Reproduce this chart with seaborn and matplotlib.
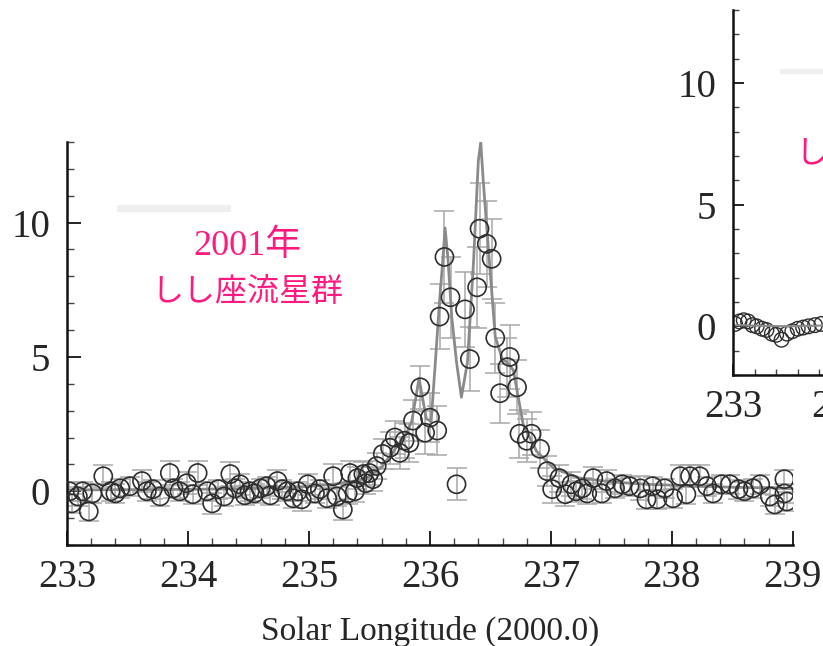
import matplotlib
matplotlib.use("Agg")
import matplotlib.pyplot as plt
import pandas as pd
import seaborn as sns
from matplotlib.patches import Rectangle
from matplotlib.ticker import MultipleLocator

# observed rates (main panel, 2001)
sol_lon = [
    233.02, 233.04, 233.09, 233.13, 233.18, 233.21, 233.30, 233.36, 233.40, 233.44,
    233.52, 233.62, 233.66, 233.71, 233.77, 233.85, 233.88, 233.93, 233.99, 234.04,
    234.08, 234.16, 234.20, 234.25, 234.30, 234.35, 234.39, 234.43, 234.47, 234.51,
    234.55, 234.60, 234.65, 234.68, 234.74, 234.78, 234.82, 234.87, 234.91, 234.94,
    234.99, 235.05, 235.09, 235.15, 235.20, 235.23, 235.28, 235.32, 235.34, 235.38,
    235.40, 235.45, 235.47, 235.50, 235.53, 235.56, 235.61, 235.67, 235.71, 235.75,
    235.79, 235.83, 235.86, 235.92, 235.96, 236.00, 236.06, 236.08, 236.12, 236.17,
    236.22, 236.29, 236.33, 236.39, 236.41, 236.47, 236.51, 236.54, 236.58, 236.64,
    236.66, 236.72, 236.74, 236.80, 236.84, 236.91, 236.97, 237.01, 237.07, 237.12,
    237.17, 237.21, 237.26, 237.30, 237.35, 237.42, 237.46, 237.53, 237.59, 237.65,
    237.74, 237.79, 237.84, 237.88, 237.94, 238.01, 238.07, 238.12, 238.15, 238.23,
    238.29, 238.34, 238.41, 238.48, 238.55, 238.60, 238.67, 238.73, 238.81, 238.85,
    238.93, 238.93, 238.95,
]
rate = [
    0.00, -0.45, -0.19, 0.00, -0.75, -0.08, 0.56, 0.00, -0.08, 0.11,
    0.19, 0.38, 0.00, 0.08, -0.19, 0.68, 0.11, 0.00, 0.30, -0.11,
    0.68, 0.00, -0.45, 0.08, -0.19, 0.64, 0.11, 0.26, -0.15, 0.00,
    -0.08, 0.11, 0.19, -0.15, 0.38, 0.08, 0.00, -0.26, 0.00, -0.30,
    0.26, -0.08, 0.08, -0.26, 0.56, -0.19, -0.68, -0.08, 0.68, 0.00,
    0.49, 0.64, 0.30, 0.68, 0.45, 0.94, 1.39, 1.62, 2.00, 1.43,
    1.88, 1.80, 2.63, 3.87, 2.18, 2.74, 2.26, 6.50, 8.72, 7.22,
    0.26, 6.77, 4.92, 7.59, 9.77, 9.21, 8.65, 5.71, 3.65, 4.62,
    5.00, 3.87, 2.14, 1.88, 2.14, 1.58, 0.75, 0.08, 0.49, -0.11,
    0.26, 0.00, 0.11, -0.08, 0.49, -0.08, 0.38, 0.11, 0.26, 0.19,
    0.11, -0.30, 0.19, -0.30, 0.11, -0.26, 0.56, -0.11, 0.56, 0.56,
    0.19, -0.08, 0.26, 0.26, 0.08, 0.00, 0.11, 0.26, -0.19, -0.49,
    0.45, -0.08, -0.38,
]
rate_err = [
    0.35, 0.35, 0.35, 0.35, 0.35, 0.35, 0.40, 0.35, 0.35, 0.35,
    0.35, 0.40, 0.35, 0.35, 0.35, 0.45, 0.35, 0.35, 0.40, 0.35,
    0.45, 0.35, 0.40, 0.35, 0.35, 0.45, 0.35, 0.40, 0.35, 0.35,
    0.35, 0.35, 0.35, 0.35, 0.40, 0.35, 0.35, 0.35, 0.35, 0.45,
    0.40, 0.35, 0.35, 0.35, 0.45, 0.35, 0.40, 0.40, 0.45, 0.40,
    0.40, 0.45, 0.40, 0.45, 0.45, 0.50, 0.55, 0.60, 0.60, 0.60,
    0.65, 0.70, 0.75, 0.80, 0.80, 0.90, 0.90, 1.20, 1.70, 1.50,
    0.60, 1.40, 1.20, 1.50, 1.70, 1.60, 1.50, 1.30, 1.10, 1.10,
    1.20, 1.00, 0.90, 0.80, 0.80, 0.70, 0.55, 0.50, 0.50, 0.45,
    0.45, 0.40, 0.40, 0.40, 0.40, 0.35, 0.40, 0.35, 0.35, 0.35,
    0.45, 0.35, 0.35, 0.35, 0.35, 0.35, 0.40, 0.35, 0.40, 0.40,
    0.35, 0.35, 0.35, 0.35, 0.35, 0.35, 0.35, 0.35, 0.35, 0.35,
    0.35, 0.35, 0.35,
]

# model curve
fit_lon = [
    233.00, 233.50, 234.00, 234.50, 235.00, 235.20, 235.40, 235.50, 235.60, 235.70,
    235.80, 235.85, 235.91, 235.97, 236.01, 236.04, 236.08, 236.11, 236.125, 236.15,
    236.18, 236.22, 236.26, 236.31, 236.36, 236.40, 236.42, 236.44, 236.47, 236.54,
    236.60, 236.64, 236.69, 236.77, 236.88, 237.02, 237.24, 237.50, 237.79, 238.50,
    239.00,
]
fit_rate = [
    0.05, 0.06, 0.07, 0.10, 0.18, 0.26, 0.40, 0.55, 0.90, 1.50,
    2.10, 2.60, 4.20, 2.70, 2.60, 4.50, 7.10, 8.80, 9.80, 8.60,
    6.50, 4.80, 3.50, 4.80, 8.50, 12.30, 13.00, 11.60, 9.80, 5.75,
    4.90, 4.80, 4.50, 2.50, 1.50, 0.86, 0.49, 0.35, 0.26, 0.15,
    0.11,
]

# neighbouring panel (cut off at the right edge)
inset_lon = [
    233.02, 233.06, 233.10, 233.14, 233.18, 233.22, 233.27, 233.31, 233.36, 233.40,
    233.45, 233.50, 233.55, 233.60, 233.65, 233.70, 233.76, 233.82,
]
inset_rate = [
    0.10, 0.20, 0.25, 0.20, 0.05, 0.00, -0.10, -0.15, -0.30, -0.35,
    -0.55, -0.30, -0.20, -0.10, -0.05, 0.00, 0.05, 0.10,
]
inset_fit_lon = [233.0, 233.5, 234.0]
inset_fit_rate = [0.05, 0.0, 0.05]

x_ticks = [233, 234, 235, 236, 237, 238, 239]
y_ticks = [0, 5, 10]

obs = pd.DataFrame({"lon": sol_lon, "rate": rate, "err": rate_err})
fit = pd.DataFrame({"lon": fit_lon, "rate": fit_rate})

sns.set_style("ticks")
plt.rcParams["font.family"] = ["Liberation Serif", "Noto Sans CJK JP"]

PINK = "#ff1a7f"
LINE_GREY = "#8a8a8a"


def style_axes(ax, size):
    ax.set_xlim(233, 239)
    ax.set_ylim(-2, 13)
    ax.set_xticks(x_ticks)
    ax.set_yticks(y_ticks)
    ax.xaxis.set_minor_locator(MultipleLocator(0.2))
    ax.yaxis.set_minor_locator(MultipleLocator(1))
    ax.tick_params(which="major", direction="in", length=10, width=1.4,
                   labelsize=size, color="#222222")
    ax.tick_params(which="minor", direction="in", length=5, width=1.0,
                   color="#444444")
    ax.tick_params(axis="x", pad=10)
    ax.tick_params(axis="y", pad=12)
    for side in ("top", "right"):
        ax.spines[side].set_visible(False)
    for side in ("left", "bottom"):
        ax.spines[side].set_linewidth(1.8)
        ax.spines[side].set_color("#111111")
    ax.set_xlabel("")
    ax.set_ylabel("")


fig = plt.figure(figsize=(8.23, 6.46), dpi=100)

ax = fig.add_axes([0.0814, 0.1563, 0.882, 0.624])
ax.errorbar(obs["lon"], obs["rate"], yerr=obs["err"], fmt="none",
            ecolor="#a8a8a8", elinewidth=1.1, capsize=7, capthick=1.1, zorder=1)
sns.lineplot(data=fit, x="lon", y="rate", color=LINE_GREY, lw=2.0, ax=ax, zorder=2)
sns.scatterplot(data=obs, x="lon", y="rate", marker="o", s=170,
                facecolor="none", edgecolor="#2e2e2e", linewidth=1.2,
                ax=ax, zorder=3)
style_axes(ax, 28)
ax.set_xlabel("Solar Longitude (2000.0)", fontsize=24, labelpad=14)

ax.text(234.49, 9.1, "2001年", color=PINK, fontsize=26, ha="center", va="center")
ax.text(234.49, 7.4, "しし座流星群", color=PINK, fontsize=23, ha="center",
        va="center", family=["Noto Sans CJK JP", "DejaVu Sans"])

# faint leftover strip above the label
fig.patches.append(Rectangle((117 / 823, (646 - 211) / 646), 113 / 823, 6 / 646,
                             transform=fig.transFigure, color="#efefef", zorder=0))

ax_in = fig.add_axes([0.8906, 0.4195, 0.787, 0.565])
ax_in.set_facecolor("white")
sns.lineplot(x=inset_fit_lon, y=inset_fit_rate, color=LINE_GREY, lw=1.5, ax=ax_in)
sns.scatterplot(x=inset_lon, y=inset_rate, marker="o", s=110,
                facecolor="none", edgecolor="#2e2e2e", linewidth=1.0, ax=ax_in)
style_axes(ax_in, 28)
ax_in.tick_params(which="major", length=8)
ax_in.tick_params(which="minor", length=4)
ax_in.text(233.574, 7.1, "しし座流星群", color=PINK, fontsize=23, ha="left",
           va="center", family=["Noto Sans CJK JP", "DejaVu Sans"])
fig.patches.append(Rectangle((780 / 823, (646 - 73) / 646), 45 / 823, 4 / 646,
                             transform=fig.transFigure, color="#efefef", zorder=0))

fig.savefig("out.png", dpi=100)
